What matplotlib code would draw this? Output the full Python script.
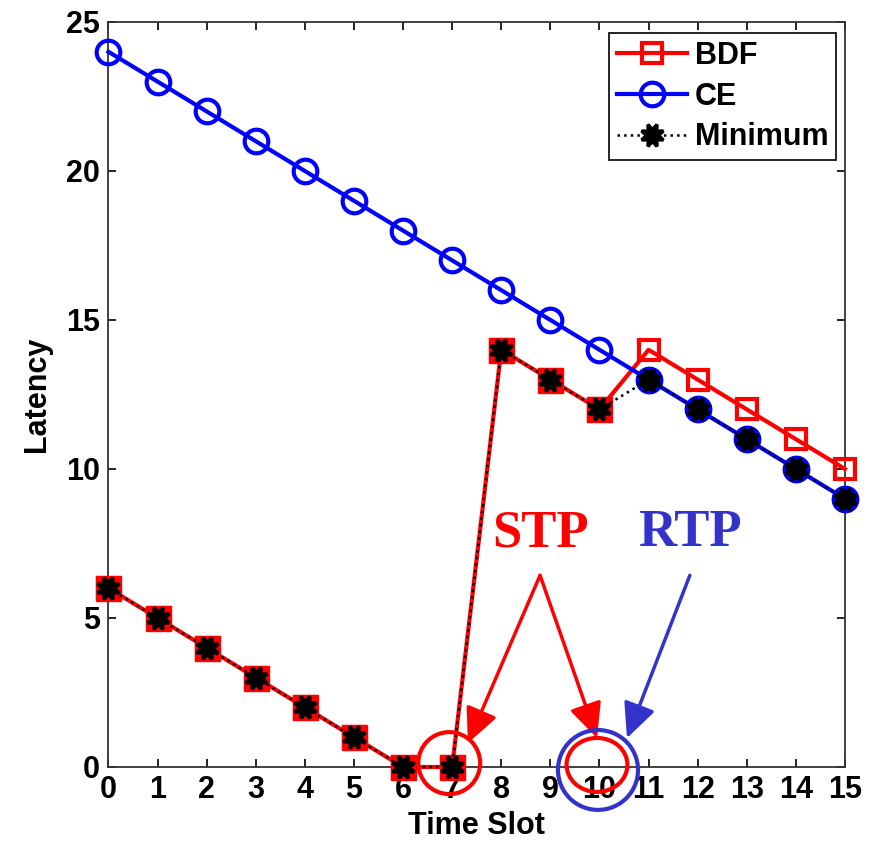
import numpy as np
import matplotlib.pyplot as plt
from matplotlib.patches import Ellipse

# data
slots = np.arange(16)
bdf = [6, 5, 4, 3, 2, 1, 0, 0, 14, 13, 12, 14, 13, 12, 11, 10]
ce = [24, 23, 22, 21, 20, 19, 18, 17, 16, 15, 14, 13, 12, 11, 10, 9]
minimum = [6, 5, 4, 3, 2, 1, 0, 0, 14, 13, 12, 13, 12, 11, 10, 9]

plt.rcParams['font.family'] = ['Liberation Sans', 'DejaVu Sans']
plt.rcParams['font.weight'] = 'bold'

fig = plt.figure(figsize=(8.74, 8.46), dpi=100)
ax = fig.add_axes([0.1241, 0.0934, 0.8427, 0.8806])

red = (1, 0, 0)
blue = (0, 0, 1)

ax.plot(slots, bdf, '-s', color=red, lw=3, ms=15, mew=3, mfc='none', label='BDF',
        zorder=3, clip_on=False)
ax.plot(slots, ce, '-o', color=blue, lw=3, ms=17, mew=3, mfc='none', label='CE',
        zorder=3, clip_on=False)

# filled markers under the minimum points
bdf_min = [i for i in slots if minimum[i] == bdf[i]]
ce_min = [i for i in slots if minimum[i] != bdf[i]]
ax.plot(bdf_min, [bdf[i] for i in bdf_min], 's', color=red, ms=18, mew=1, zorder=4, clip_on=False)
ax.plot(ce_min, [ce[i] for i in ce_min], 'o', mfc='black', mec=blue, ms=17, mew=2.5,
        zorder=4, clip_on=False)

ax.plot(slots, minimum, ':', color='black', lw=1.8, marker=(8, 1, 22.5), ms=17, mew=2.5,
        mfc='black', mec='black', label='Minimum', zorder=5, clip_on=False)

ax.set_xlim(0, 15)
ax.set_ylim(0, 25)
ax.set_xticks(range(0, 16))
ax.set_yticks(range(0, 26, 5))
ax.tick_params(direction='in', length=6, width=1.2, labelsize=22, top=True, right=True, pad=6)
for lab in ax.get_xticklabels() + ax.get_yticklabels():
    lab.set_fontweight('bold')
for s in ax.spines.values():
    s.set_linewidth(1.3)
    s.set_color('#333333')

ax.set_xlabel('Time Slot', fontsize=22, fontweight='bold', labelpad=4)
ax.set_ylabel('Latency', fontsize=22, fontweight='bold', labelpad=10)

leg = ax.legend(loc='upper right', bbox_to_anchor=(0.988, 0.985), borderaxespad=0,
                fontsize=22, handlelength=2.3, handletextpad=0.25, labelspacing=0.35,
                borderpad=0.25, fancybox=False, framealpha=1, edgecolor='black')
leg.get_frame().set_linewidth(1.2)

# annotations
ann_blue = '#3333cc'
tfont = dict(family=['Liberation Serif', 'DejaVu Serif'], fontsize=38, fontweight='bold',
             ha='center', va='center')
ax.text(8.79, 7.84, 'STP', color=red, **tfont)
ax.text(11.84, 7.84, 'RTP', color=ann_blue, **tfont)

aprops = dict(arrowstyle='-|>,head_length=0.85,head_width=0.4', lw=2.5, shrinkA=0, shrinkB=0,
              mutation_scale=25)
ax.annotate('', xy=(7.32, 0.80), xytext=(8.79, 6.43), annotation_clip=False,
            arrowprops=dict(color=red, **aprops))
ax.annotate('', xy=(9.95, 0.97), xytext=(8.79, 6.43), annotation_clip=False,
            arrowprops=dict(color=red, **aprops))
ax.annotate('', xy=(10.56, 0.97), xytext=(11.84, 6.43), annotation_clip=False,
            arrowprops=dict(color=ann_blue, **aprops))

ax.add_patch(Ellipse((6.94, 0.13), 1.26, 2.08, fill=False, ec=red, lw=3, clip_on=False, zorder=6))
ax.add_patch(Ellipse((9.95, 0.07), 1.24, 1.81, fill=False, ec=red, lw=3, clip_on=False, zorder=6))
ax.add_patch(Ellipse((9.97, -0.1), 1.63, 2.68, fill=False, ec=ann_blue, lw=3, clip_on=False, zorder=6))

fig.savefig('out.png', dpi=100)
